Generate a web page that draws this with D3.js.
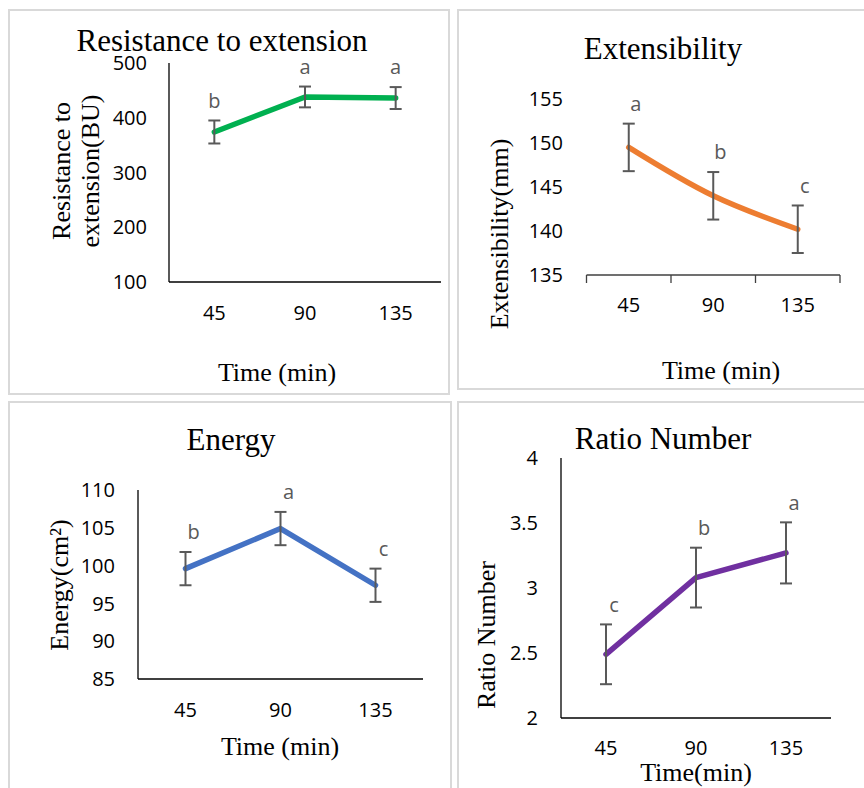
<!DOCTYPE html>
<html>
<head>
<meta charset="utf-8">
<script src="https://cdn.jsdelivr.net/npm/d3@7/dist/d3.min.js"></script>
<style>
  html, body { margin: 0; padding: 0; background: #fff; }
  svg { display: block; }
</style>
</head>
<body>
<svg id="chart" width="864" height="788"></svg>
<script>
// ---------- data ----------
const times = ["45", "90", "135"];

const resistanceValues = [374, 438, 436];
const resistanceErrors = [21, 19, 20];
const resistanceLetters = ["b", "a", "a"];
const resistanceTicks = [100, 200, 300, 400, 500];

const extensibilityValues = [149.5, 144.0, 140.2];
const extensibilityErrors = [2.7, 2.7, 2.7];
const extensibilityLetters = ["a", "b", "c"];
const extensibilityTicks = [135, 140, 145, 150, 155];

const energyValues = [99.6, 104.9, 97.4];
const energyErrors = [2.2, 2.2, 2.2];
const energyLetters = ["b", "a", "c"];
const energyTicks = [85, 90, 95, 100, 105, 110];

const ratioValues = [2.49, 3.08, 3.27];
const ratioErrors = [0.23, 0.23, 0.235];
const ratioLetters = ["c", "b", "a"];
const ratioTicks = [2, 2.5, 3, 3.5, 4];

// ---------- drawing ----------
const svg = d3.select("#chart");
const serif = "'Liberation Serif', 'Times New Roman', serif";
const sans = "'Open Sans', 'Liberation Sans', sans-serif";
const grey = "#595959";

// panel frames
const frames = [
  {x: 9, y: 10, w: 440, h: 384},
  {x: 458, y: 10, w: 410, h: 379},
  {x: 9, y: 402, w: 442, h: 392},
  {x: 458, y: 402, w: 410, h: 392}
];
svg.selectAll("rect.frame").data(frames).join("rect")
  .attr("class", "frame")
  .attr("x", d => d.x).attr("y", d => d.y)
  .attr("width", d => d.w).attr("height", d => d.h)
  .attr("fill", "none").attr("stroke", "#d9d9d9").attr("stroke-width", 2);

function panel(cfg) {
  const g = svg.append("g");
  const x = d3.scaleBand().domain(times).range([cfg.left, cfg.right]);
  const y = d3.scaleLinear().domain([cfg.ticks[0], cfg.ticks[cfg.ticks.length - 1]])
    .range([cfg.bottom, cfg.top]);
  const cx = t => x(t) + x.bandwidth() / 2;

  // y axis line
  if (cfg.yAxisLine) {
    g.append("line")
      .attr("x1", cfg.left).attr("x2", cfg.left)
      .attr("y1", y(cfg.ticks[cfg.ticks.length - 1])).attr("y2", y(cfg.ticks[0]))
      .attr("stroke", cfg.axisColor).attr("stroke-width", 1.3);
  }
  // x axis line
  g.append("line")
    .attr("x1", cfg.left).attr("x2", cfg.right)
    .attr("y1", y(cfg.ticks[0])).attr("y2", y(cfg.ticks[0]))
    .attr("stroke", cfg.axisColor).attr("stroke-width", 1.3);

  if (cfg.xTicks) {
    const bounds = times.map(t => x(t)).concat([cfg.right]);
    g.selectAll("line.xt").data(bounds).join("line")
      .attr("class", "xt")
      .attr("x1", d => d).attr("x2", d => d)
      .attr("y1", y(cfg.ticks[0])).attr("y2", y(cfg.ticks[0]) + 8)
      .attr("stroke", cfg.axisColor).attr("stroke-width", 1.3);
  }

  // y tick labels
  g.selectAll("text.yt").data(cfg.ticks).join("text")
    .attr("class", "yt")
    .attr("x", cfg.yLabelX).attr("y", d => y(d)).attr("dy", "0.36em")
    .attr("text-anchor", "end")
    .attr("font-family", sans).attr("font-size", 20).attr("fill", "#000")
    .text(d => cfg.tickFormat ? cfg.tickFormat(d) : d);

  // x tick labels
  g.selectAll("text.xl").data(times).join("text")
    .attr("class", "xl")
    .attr("x", d => cx(d)).attr("y", cfg.xLabelY).attr("dy", "0.36em")
    .attr("text-anchor", "middle")
    .attr("font-family", sans).attr("font-size", 20).attr("fill", "#000")
    .text(d => d);

  const pts = times.map((t, i) => ({t, v: cfg.values[i], e: cfg.errors[i], l: cfg.letters[i]}));

  // line
  const line = d3.line().x(d => cx(d.t)).y(d => y(d.v))
    .curve(cfg.smooth ? d3.curveCatmullRom.alpha(0.5) : d3.curveLinear);
  g.append("path").datum(pts)
    .attr("d", line).attr("fill", "none")
    .attr("stroke", cfg.color).attr("stroke-width", 5.5)
    .attr("stroke-linecap", "round").attr("stroke-linejoin", "round");

  // error bars
  const eb = g.selectAll("g.eb").data(pts).join("g").attr("class", "eb")
    .attr("stroke", grey).attr("stroke-width", 2);
  eb.append("line")
    .attr("x1", d => cx(d.t)).attr("x2", d => cx(d.t))
    .attr("y1", d => y(d.v + d.e)).attr("y2", d => y(d.v - d.e));
  eb.append("line")
    .attr("x1", d => cx(d.t) - 6).attr("x2", d => cx(d.t) + 6)
    .attr("y1", d => y(d.v + d.e)).attr("y2", d => y(d.v + d.e));
  eb.append("line")
    .attr("x1", d => cx(d.t) - 6).attr("x2", d => cx(d.t) + 6)
    .attr("y1", d => y(d.v - d.e)).attr("y2", d => y(d.v - d.e));

  // significance letters
  g.selectAll("text.sig").data(pts).join("text")
    .attr("class", "sig")
    .attr("x", d => cx(d.t) + cfg.letterDx).attr("y", d => y(d.v + d.e) - 20).attr("dy", "0.36em")
    .attr("text-anchor", "middle")
    .attr("font-family", sans).attr("font-size", 20).attr("fill", grey)
    .text(d => d.l);

  // title
  g.append("text")
    .attr("x", cfg.titleX).attr("y", cfg.titleY)
    .attr("text-anchor", "middle")
    .attr("font-family", serif).attr("font-size", 31).attr("fill", "#000")
    .text(cfg.title);

  // x title
  g.append("text")
    .attr("x", cfg.xTitleX).attr("y", cfg.xTitleY)
    .attr("text-anchor", "middle")
    .attr("font-family", serif).attr("font-size", 26).attr("fill", "#000")
    .text(cfg.xTitle);

  // y title (possibly multi-line)
  cfg.yTitle.forEach((txt, i) => {
    g.append("text")
      .attr("transform", `translate(${cfg.yTitleX[i]},${cfg.yTitleY}) rotate(-90)`)
      .attr("text-anchor", "middle")
      .attr("font-family", serif).attr("font-size", 26).attr("fill", "#000")
      .text(txt);
  });
}

panel({
  values: resistanceValues, errors: resistanceErrors, letters: resistanceLetters, ticks: resistanceTicks,
  left: 169, right: 441, top: 63, bottom: 282,
  color: "#00b050", axisColor: "#000", yAxisLine: true, xTicks: false, smooth: false,
  yLabelX: 147, xLabelY: 313, letterDx: 0,
  title: "Resistance to extension", titleX: 222, titleY: 51,
  xTitle: "Time (min)", xTitleX: 277, xTitleY: 381,
  yTitle: ["Resistance to", "extension(BU)"], yTitleX: [70, 99], yTitleY: 171
});

panel({
  values: extensibilityValues, errors: extensibilityErrors, letters: extensibilityLetters, ticks: extensibilityTicks,
  left: 586.5, right: 840, top: 99, bottom: 275,
  color: "#ed7d31", axisColor: "#404040", yAxisLine: false, xTicks: true, smooth: true,
  yLabelX: 563, xLabelY: 305, letterDx: 7,
  title: "Extensibility", titleX: 663, titleY: 59,
  xTitle: "Time (min)", xTitleX: 721, xTitleY: 379,
  yTitle: ["Extensibility(mm)"], yTitleX: [508], yTitleY: 234
});

panel({
  values: energyValues, errors: energyErrors, letters: energyLetters, ticks: energyTicks,
  left: 138, right: 423, top: 490, bottom: 679,
  color: "#4472c4", axisColor: "#000", yAxisLine: true, xTicks: false, smooth: false,
  yLabelX: 115, xLabelY: 710, letterDx: 8,
  title: "Energy", titleX: 231, titleY: 450,
  xTitle: "Time (min)", xTitleX: 280, xTitleY: 755,
  yTitle: ["Energy(cm²)"], yTitleX: [68], yTitleY: 585
});

panel({
  values: ratioValues, errors: ratioErrors, letters: ratioLetters, ticks: ratioTicks,
  left: 561, right: 831, top: 458, bottom: 718,
  color: "#7030a0", axisColor: "#000", yAxisLine: true, xTicks: false, smooth: false,
  yLabelX: 538, xLabelY: 748, letterDx: 8, tickFormat: d3.format("~g"),
  title: "Ratio Number", titleX: 663, titleY: 449,
  xTitle: "Time(min)", xTitleX: 696, xTitleY: 781,
  yTitle: ["Ratio Number"], yTitleX: [495], yTitleY: 635
});
</script>
</body>
</html>
